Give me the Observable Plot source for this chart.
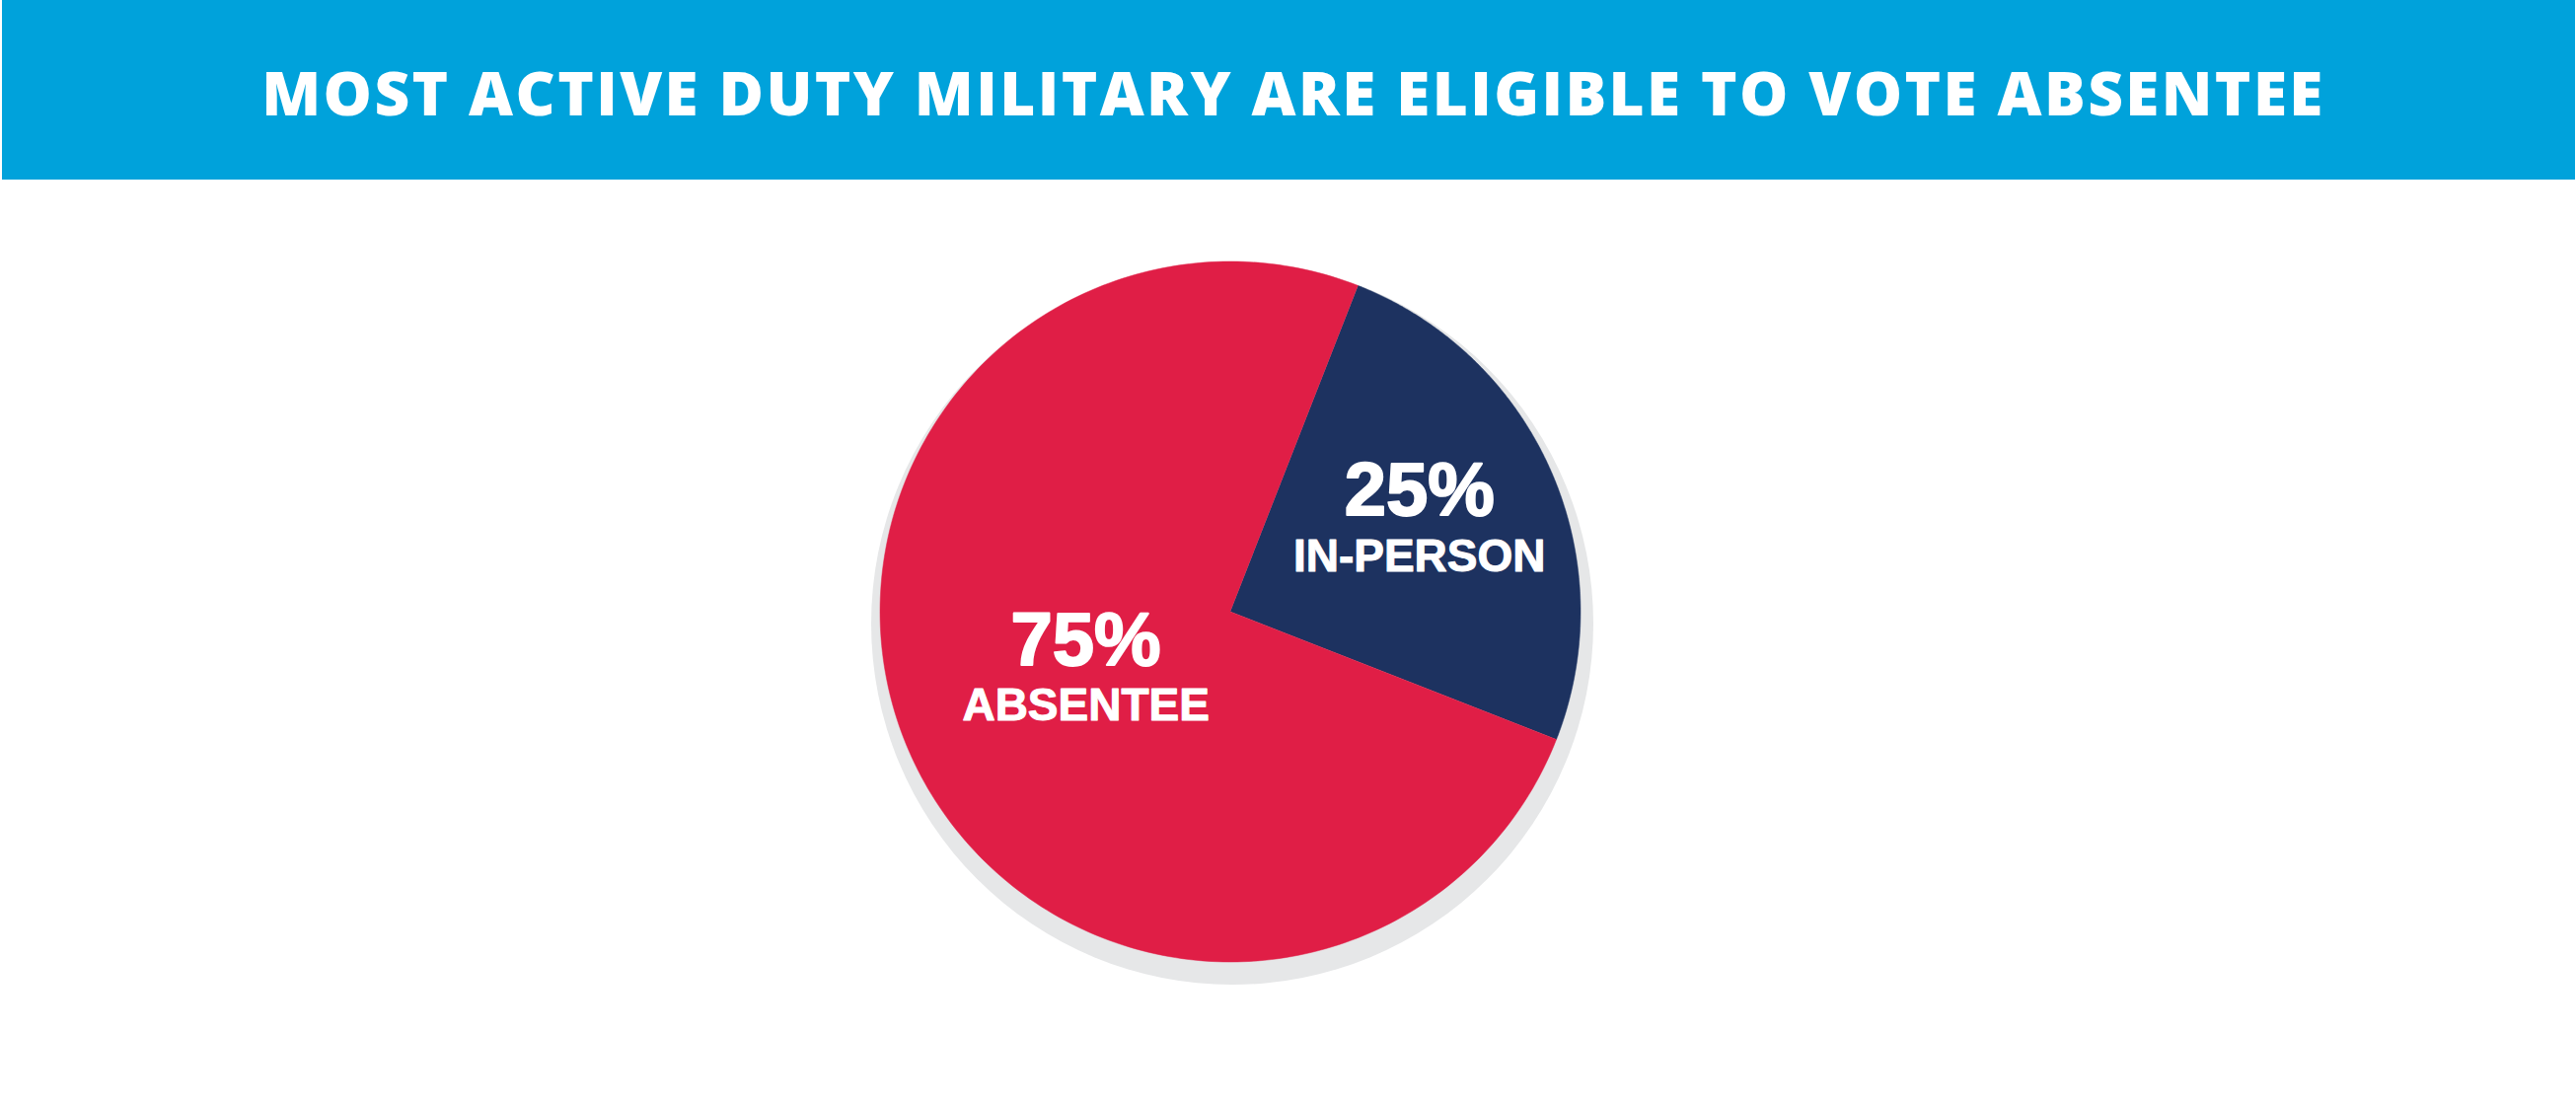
<!DOCTYPE html>
<html>
<head>
<meta charset="utf-8">
<script src="https://cdn.jsdelivr.net/npm/d3@7"></script>
<script src="https://cdn.jsdelivr.net/npm/@observablehq/plot@0.6"></script>
<style>
  html, body { margin: 0; padding: 0; background: #ffffff; overflow: hidden; }
  #title {
    width: 2608px; height: 182px; margin-left: 2px;
    background: #00A2DB; color: #ffffff;
    font-family: "Open Sans", sans-serif; font-weight: 800;
    font-size: 62px; letter-spacing: 2.4px;
    display: flex; align-items: center; justify-content: center;
    box-sizing: border-box; padding-top: 4px; padding-left: 10px;
  }
  #chart svg { display: block; }
</style>
</head>
<body>
<div id="title">MOST ACTIVE DUTY MILITARY ARE ELIGIBLE TO VOTE ABSENTEE</div>
<div id="chart"></div>
<script>
// ---- data ----
const categories = ["In-person", "Absentee"];
const shares = [25, 75];
const labels = ["IN-PERSON", "ABSENTEE"];
const colors = ["#1D3260", "#E01E46"];

// ---- layout ----
const W = 2611, H = 1121 - 182;
const R = 355;              // pie radius, px
const cx = 1246.5, cy = 437.5; // pie centre in svg px
const startDeg = 21.4;
const labelTweak = { "In-person": { rf: 0.604, da: -3.0 }, "Absentee": { rf: 0.441, da: 2.8 } };

const arcs = d3.pie().sort(null).startAngle(startDeg * Math.PI / 180)
  .endAngle(startDeg * Math.PI / 180 + 2 * Math.PI)(shares);

// polygon outline of each wedge (unit radius, y up)
const wedgePts = [];
arcs.forEach((a, i) => {
  const cat = categories[i];
  wedgePts.push({ cat, x: 0, y: 0 });
  const n = 240;
  for (let k = 0; k <= n; k++) {
    const t = a.startAngle + (a.endAngle - a.startAngle) * k / n;
    wedgePts.push({ cat, x: Math.sin(t), y: Math.cos(t) });
  }
});

const labelRows = arcs.map((a, i) => {
  const cat = categories[i];
  const tw = labelTweak[cat];
  const mid = (a.startAngle + a.endAngle) / 2 + tw.da * Math.PI / 180;
  return { cat, pct: shares[i] + "%", label: labels[i], x: tw.rf * Math.sin(mid), y: tw.rf * Math.cos(mid) };
});

const chart = Plot.plot({
  width: W, height: H,
  margin: 0,
  x: { domain: [-cx / R, (W - cx) / R], axis: null },
  y: { domain: [-(H - cy) / R, cy / R], axis: null },
  color: { domain: categories, range: colors },
  style: { background: "#ffffff" },
  marks: [
    Plot.dot([0], { x: () => 0, y: () => 0, r: 366, dx: 2, dy: 12, fill: "#E6E7E8", stroke: "none" }),
    Plot.line(wedgePts, { x: "x", y: "y", z: "cat", fill: "cat", stroke: "cat", strokeWidth: 0.5, curve: "linear" }),
    Plot.text(labelRows, { x: "x", y: "y", text: "pct", dy: -26, fill: "#ffffff",
      stroke: "#ffffff", strokeWidth: 2,
      fontSize: 76, fontWeight: 700, fontFamily: "Liberation Sans" }),
    Plot.text(labelRows, { x: "x", y: "y", text: "label", dy: 40, fill: "#ffffff",
      stroke: "#ffffff", strokeWidth: 1,
      fontSize: 46, fontWeight: 700, fontFamily: "Liberation Sans" })
  ]
});
document.getElementById("chart").appendChild(chart);
</script>
</body>
</html>
